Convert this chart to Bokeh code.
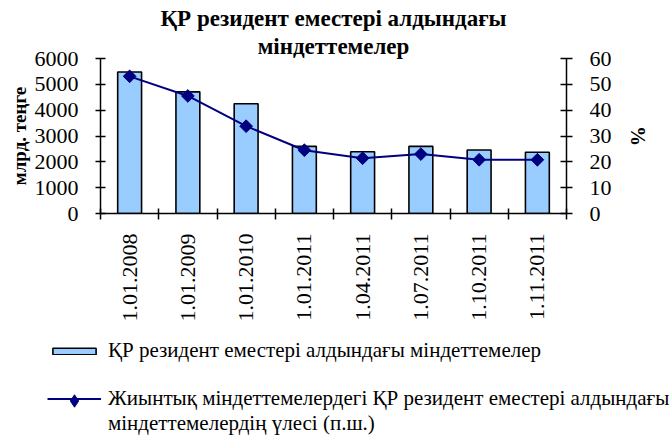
import math
from bokeh.plotting import figure
from bokeh.models import (Range1d, LinearAxis, FixedTicker, Title, Legend, LegendItem,
                          ColumnDataSource)
from bokeh.embed import file_html
from bokeh.resources import INLINE

# ---- data ----
dates = ["1.01.2008", "1.01.2009", "1.01.2010", "1.01.2011",
         "1.04.2011", "1.07.2011", "1.10.2011", "1.11.2011"]
liabilities = [5480, 4710, 4250, 2600, 2390, 2600, 2460, 2370]   # млрд. теңге
share = [53.1, 45.5, 33.8, 24.5, 21.4, 23.0, 20.8, 20.8]          # %
y_left_ticks = [0, 1000, 2000, 3000, 4000, 5000, 6000]
y_right_ticks = [0, 10, 20, 30, 40, 50, 60]

title_line1 = "ҚР резидент еместері алдындағы"
title_line2 = "міндеттемелер"
bar_label = "ҚР резидент еместері алдындағы міндеттемелер"
line_label_1 = "Жиынтық міндеттемелердегі ҚР резидент еместері алдындағы"
line_label_2 = "міндеттемелердің үлесі (п.ш.)"

FONT = "Liberation Serif"
BAR_FILL = "#99CCFF"
LINE_COL = "#000080"
NAN = float("nan")

xs = [i + 0.5 for i in range(len(dates))]
src = ColumnDataSource(dict(x=xs, val=liabilities, pct=share))

p = figure(width=670, height=338, output_backend="svg", toolbar_location=None,
           x_range=Range1d(0, len(dates)), y_range=Range1d(0, 6000),
           min_border_left=100, min_border_right=104, min_border_top=58,
           min_border_bottom=125, title=None, x_axis_location=None,
           y_axis_location=None)
p.extra_y_ranges = {"pct": Range1d(0, 60)}
p.outline_line_color = None
p.xgrid.visible = False
p.ygrid.visible = False

# titles (first added is closest to the plot)
p.add_layout(Title(text=title_line2, align="center", offset=-7, standoff=0,
                   text_font=FONT, text_font_size="23px", text_font_style="bold",
                   text_color="black"), "above")
p.add_layout(Title(text=title_line1, align="center", offset=-7, standoff=1,
                   text_font=FONT, text_font_size="23px", text_font_style="bold",
                   text_color="black"), "above")

p.vbar(x="x", top="val", width=0.41, source=src,
       fill_color=BAR_FILL, line_color="black", line_width=1.6)
p.line(x="x", y="pct", source=src, y_range_name="pct",
       line_color=LINE_COL, line_width=2)
p.scatter(x="x", y="pct", source=src, y_range_name="pct", marker="square",
          size=9, angle=math.pi / 4, fill_color=LINE_COL, line_color=LINE_COL)


def style_axis(ax):
    ax.axis_line_color = "black"
    ax.axis_line_width = 1.5
    ax.major_tick_line_color = "black"
    ax.major_tick_line_width = 1.5
    ax.minor_tick_line_color = None
    ax.major_label_text_font = FONT
    ax.major_label_text_font_size = "22px"
    ax.major_label_text_color = "black"
    ax.axis_label_text_font = FONT
    ax.axis_label_text_font_style = "bold"
    ax.axis_label_text_color = "black"


# bottom axis: labels at bar centres, ticks between categories
xax = LinearAxis(ticker=FixedTicker(ticks=xs, minor_ticks=list(range(len(dates) + 1))))
style_axis(xax)
xax.major_tick_line_color = None
xax.minor_tick_line_color = "black"
xax.minor_tick_line_width = 1.5
xax.minor_tick_in = 5
xax.minor_tick_out = 6
xax.major_tick_in = 0
xax.major_tick_out = 6
xax.major_label_orientation = math.pi / 2
xax.major_label_standoff = 14
xax.major_label_overrides = {x: d for x, d in zip(xs, dates)}
p.add_layout(xax, "below")

yl = LinearAxis(ticker=FixedTicker(ticks=y_left_ticks), axis_label="млрд. теңге")
style_axis(yl)
yl.major_tick_in = 5
yl.major_tick_out = 5
yl.major_label_standoff = 17
yl.axis_label_standoff = 2
yl.axis_label_text_font_size = "19px"
p.add_layout(yl, "left")

yr = LinearAxis(y_range_name="pct", ticker=FixedTicker(ticks=y_right_ticks), axis_label="%")
style_axis(yr)
yr.major_tick_in = 6
yr.major_tick_out = 6
yr.major_label_standoff = 17
yr.axis_label_standoff = 12
yr.axis_label_text_font_size = "20px"
p.add_layout(yr, "right")

# ---- legend panel below the chart (separate root so its frame spans the width) ----
lg = figure(width=670, height=100, output_backend="svg", toolbar_location=None,
            x_range=Range1d(0, 1), y_range=Range1d(0, 1), min_border=0,
            title=None, x_axis_location=None, y_axis_location=None)
lg.outline_line_color = None
lg.xgrid.visible = False
lg.ygrid.visible = False

sw_bar = lg.vbar(x=[NAN], top=[NAN], width=0.41, fill_color=BAR_FILL,
                 line_color="black", line_width=1.6)
sw_line = lg.line(x=[NAN], y=[NAN], line_color=LINE_COL, line_width=2)
sw_mark = lg.scatter(x=[NAN], y=[NAN], marker="diamond", size=12,
                     fill_color=LINE_COL, line_color=LINE_COL)
sw_none = lg.line(x=[NAN], y=[NAN], line_alpha=0)


def make_legend(items, loc, gh):
    return Legend(items=items, location=loc, orientation="vertical",
                  glyph_width=54, glyph_height=gh, label_standoff=7,
                  label_text_font=FONT, label_text_font_size="21px",
                  label_text_color="black", label_height=gh,
                  padding=0, margin=0, spacing=0,
                  border_line_color=None, background_fill_alpha=0)


leg1 = make_legend([LegendItem(label=bar_label, renderers=[sw_bar])], (47, 75), 8)
leg2 = make_legend([LegendItem(label=line_label_1, renderers=[sw_line]),
                    LegendItem(label=line_label_2, renderers=[sw_none])], (47, 2), 21)
# marker of the second item, drawn by its own legend so it can be larger
legm = make_legend([LegendItem(label=" ", renderers=[sw_mark])], (47, 22), 31)
lg.add_layout(leg1, "center")
lg.add_layout(leg2, "center")
lg.add_layout(legm, "center")

open("out.html", "w").write(file_html([p, lg], INLINE))
